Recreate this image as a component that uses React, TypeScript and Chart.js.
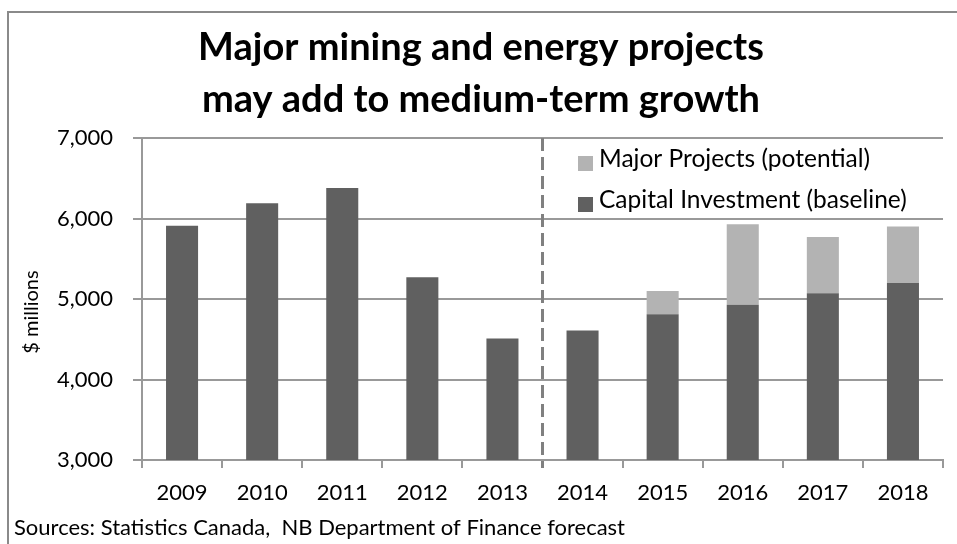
import React, { useEffect, useRef } from "react";
import { Chart, registerables } from "chart.js";

Chart.register(...registerables);

const years = ["2009", "2010", "2011", "2012", "2013", "2014", "2015", "2016", "2017", "2018"];
const baseline = [5910, 6190, 6380, 5270, 4510, 4610, 4810, 4930, 5070, 5200];
const potential = [0, 0, 0, 0, 0, 0, 290, 1000, 700, 700];
const yMin = 3000;
const yMax = 7000;
const yStep = 1000;
const forecastStartIndex = 5;
const titleLines = ["Major mining and energy projects", "may add to medium-term growth"];
const yTitle = "$ millions";
const sourceText = "Sources: Statistics Canada,  NB Department of Finance forecast";
const legendLabels = ["Major Projects (potential)", "Capital Investment (baseline)"];

const DARK = "#606060";
const LIGHT = "#b3b3b3";
const GRID = "#999999";
const FONT = "Lato, 'Open Sans', sans-serif";

const overlay = {
  id: "overlay",
  afterDatasetsDraw(chart: any) {
    const { ctx, chartArea, scales } = chart;
    const x = scales.x;
    const xd = (x.getPixelForValue(forecastStartIndex - 1) + x.getPixelForValue(forecastStartIndex)) / 2;
    ctx.save();
    ctx.strokeStyle = "#808080";
    ctx.lineWidth = 3;
    ctx.setLineDash([13, 6]);
    ctx.beginPath();
    ctx.moveTo(xd, chartArea.top);
    ctx.lineTo(xd, chartArea.bottom + 8);
    ctx.stroke();
    ctx.restore();
  },
  afterDraw(chart: any) {
    const { ctx } = chart;
    ctx.save();
    ctx.fillStyle = "#000";
    // title
    ctx.font = `bold 38px ${FONT}`;
    ctx.textAlign = "center";
    ctx.textBaseline = "alphabetic";
    ctx.fillText(titleLines[0], 481, 60);
    ctx.fillText(titleLines[1], 481, 112);
    // legend
    ctx.textAlign = "left";
    ctx.font = `24.5px ${FONT}`;
    ctx.fillStyle = LIGHT;
    ctx.fillRect(578, 156, 15, 15);
    ctx.fillStyle = DARK;
    ctx.fillRect(578, 197, 15, 15);
    ctx.fillStyle = "#000";
    ctx.fillText(legendLabels[0], 599, 167);
    ctx.fillText(legendLabels[1], 599, 208);
    // source
    ctx.font = `22px ${FONT}`;
    ctx.fillText(sourceText, 14, 535);
    // y title
    ctx.translate(32, 312);
    ctx.rotate(-Math.PI / 2);
    ctx.textAlign = "center";
    ctx.textBaseline = "middle";
    ctx.font = `20px ${FONT}`;
    ctx.fillText(yTitle, 0, 0);
    ctx.restore();
  },
};

export default function App() {
  const ref = useRef<HTMLCanvasElement | null>(null);
  useEffect(() => {
    if (!ref.current) return;
    const chart = new Chart(ref.current, {
      type: "bar",
      data: {
        labels: years,
        datasets: [
          {
            label: legendLabels[1],
            data: baseline,
            backgroundColor: DARK,
            barPercentage: 0.4,
            categoryPercentage: 1,
          },
          {
            label: legendLabels[0],
            data: potential,
            backgroundColor: LIGHT,
            barPercentage: 0.4,
            categoryPercentage: 1,
          },
        ],
      },
      options: {
        animation: false,
        responsive: false,
        maintainAspectRatio: false,
        layout: { padding: { top: 138, left: 0, right: 14, bottom: 0 } },
        plugins: {
          legend: { display: false },
          title: { display: false },
          tooltip: { enabled: false },
        },
        scales: {
          x: {
            stacked: true,
            offset: true,
            grid: {
              offset: true,
              drawOnChartArea: false,
              drawTicks: true,
              tickLength: 8,
              color: GRID,
              lineWidth: 2,
            },
            border: { display: true, color: GRID, width: 2 },
            ticks: {
              color: "#000",
              font: { family: FONT, size: 22 },
              padding: 12,
              maxRotation: 0,
            },
            afterFit(scale: any) {
              scale.height = 84;
            },
          },
          y: {
            stacked: true,
            min: yMin,
            max: yMax,
            ticks: {
              stepSize: yStep,
              color: "#000",
              font: { family: FONT, size: 22 },
              padding: 20,
              callback: (v: any) => Number(v).toLocaleString("en-US"),
            },
            grid: { color: GRID, lineWidth: 2, tickLength: 9, drawTicks: true },
            border: { display: true, color: GRID, width: 2 },
            afterFit(scale: any) {
              scale.width = 142;
            },
          },
        },
      },
      plugins: [overlay],
    });
    return () => chart.destroy();
  }, []);

  return (
    <div style={{ position: "fixed", left: 0, top: 0, width: 957, height: 544, overflow: "hidden", background: "#fff" }}>
      <div
        style={{
          position: "absolute",
          left: 7,
          top: 11,
          width: 1000,
          height: 600,
          border: "2px solid #8a8a8a",
        }}
      />
      <canvas ref={ref} width={957} height={544} style={{ position: "absolute", left: 0, top: 0, width: 957, height: 544 }} />
    </div>
  );
}
